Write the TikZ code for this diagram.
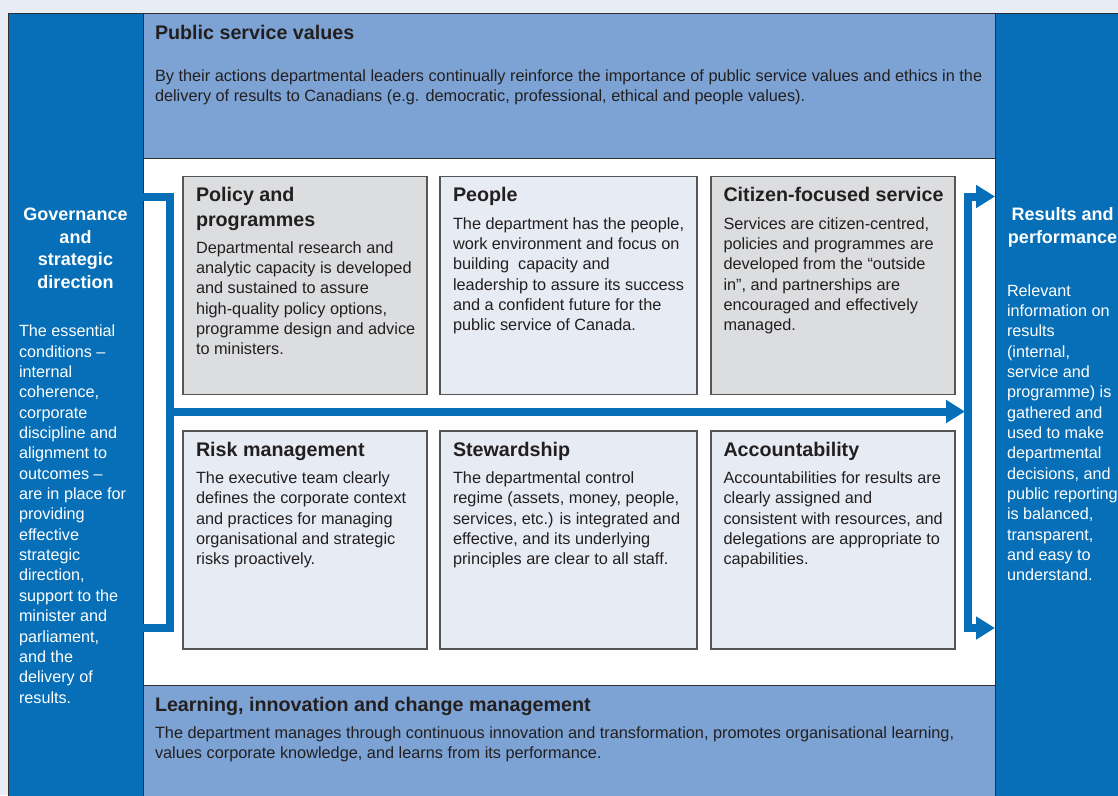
\documentclass[tikz,border=0pt]{standalone}
\usepackage{fontspec}
\setmainfont{Liberation Sans}
\usetikzlibrary{arrows.meta,calc}
\definecolor{colblue}{RGB}{6,111,183}
\definecolor{bandc}{RGB}{125,163,212}
\definecolor{bgc}{RGB}{232,236,244}
\definecolor{greyc}{RGB}{220,221,223}
\definecolor{lightc}{RGB}{231,235,244}
\definecolor{framec}{RGB}{45,45,50}
\definecolor{boxline}{RGB}{85,85,88}
\definecolor{txtc}{RGB}{35,31,32}
\begin{document}
\begin{tikzpicture}[x=1pt,y=-1pt,
  region/.style={draw=framec, line width=0.9pt, inner sep=0pt, outer sep=0pt, anchor=north west},
  cellbox/.style={draw=boxline, line width=1.3pt, inner sep=0pt, outer sep=0pt, anchor=north west, minimum height=218pt},
  bodytxt/.style={font=\fontsize{16.3}{20.35}\selectfont, text=txtc, align=left, inner sep=0pt, outer sep=0pt, anchor=north west},
  titletxt/.style={font=\bfseries\fontsize{19.7}{24.5}\selectfont, text=txtc, align=left, inner sep=0pt, outer sep=0pt, anchor=north west},
  sidehd/.style={font=\bfseries\fontsize{18}{22.5}\selectfont, text=white, align=center, inner sep=0pt, outer sep=0pt, anchor=north},
  sidebody/.style={font=\fontsize{16.2}{20.35}\selectfont, text=white, align=left, inner sep=0pt, outer sep=0pt, anchor=north west},
  flow/.style={draw=colblue, line width=8pt, line join=miter},
  tipx/.tip={Triangle[length=19pt,width=22pt]}
]
\useasboundingbox[fill=bgc] (0,0) rectangle (1118,795);

% regions
\node[region, fill=colblue, minimum width=135pt, minimum height=800pt] (gov) at (8,13) {};
\node[region, fill=colblue, minimum width=140pt, minimum height=800pt] (res) at (995,13) {};
\node[region, fill=bandc, minimum width=852pt, minimum height=145pt] (psv) at (143,13) {};
\node[region, fill=white, minimum width=852pt, minimum height=527pt] (mid) at (143,158) {};
\node[region, fill=bandc, minimum width=852pt, minimum height=115pt] (lic) at (143,685) {};

% boxes
\node[cellbox, fill=greyc, minimum width=244pt] (pol) at (183,176.5) {};
\node[cellbox, fill=lightc, minimum width=257pt] (ppl) at (440,176.5) {};
\node[cellbox, fill=greyc, minimum width=244pt] (cit) at (711,176.5) {};
\node[cellbox, fill=lightc, minimum width=244pt] (risk) at (183,431) {};
\node[cellbox, fill=lightc, minimum width=257pt] (stew) at (440,431) {};
\node[cellbox, fill=lightc, minimum width=244pt] (acc) at (711,431) {};

% top band
\node[titletxt, anchor=base west] (psvt) at (155,39) {Public service values};
\node[bodytxt] (psvb) at (155,66.8) {\strut By their actions departmental leaders continually reinforce the importance of public service values and ethics in the\\delivery of results to Canadians (e.g. democratic, professional, ethical and people values).};

% bottom band
\node[titletxt, anchor=base west] (lict) at (155,711.5) {Learning, innovation and change management};
\node[bodytxt] (licb) at (155,724) {\strut The department manages through continuous innovation and transformation, promotes organisational learning,\\values corporate knowledge, and learns from its performance.};

% left column
\node[sidehd] (govt) at (75.5,204.8) {\strut Governance\\and\\strategic\\direction};
\node[sidebody] (govb) at (19,322.5) {\strut The essential\\conditions –\\internal\\coherence,\\corporate\\discipline and\\alignment to\\outcomes –\\are in place for\\providing\\effective\\strategic\\direction,\\support to the\\minister and\\parliament,\\and the\\delivery of\\results.};

% right column
\node[sidehd] (rest) at (1062.5,204.8) {\strut Results and\\performance};
\node[sidebody] (resb) at (1007,281.8) {\strut Relevant\\information on\\results\\(internal,\\service and\\programme) is\\gathered and\\used to make\\departmental\\decisions, and\\public reporting\\is balanced,\\transparent,\\and easy to\\understand.};

% box texts
\node[titletxt] (polt) at ([shift={(13,8)}]pol.north west) {\strut Policy and\\programmes};
\node[bodytxt] (polb) at ([shift={(13,62.3)}]pol.north west) {\strut Departmental research and\\analytic capacity is developed\\and sustained to assure\\high-quality policy options,\\programme design and advice\\to ministers.};

\node[titletxt] (pplt) at ([shift={(13,8)}]ppl.north west) {\strut People};
\node[bodytxt] (pplb) at ([shift={(13,38.3)}]ppl.north west) {\strut The department has the people,\\work environment and focus on\\building\ \ capacity and\\leadership to assure its success\\and a confident future for the\\public service of Canada.};

\node[titletxt] (citt) at ([shift={(12.5,8)}]cit.north west) {\strut Citizen-focused service};
\node[bodytxt] (citb) at ([shift={(12.5,38.3)}]cit.north west) {\strut Services are citizen-centred,\\policies and programmes are\\developed from the “outside\\in”, and partnerships are\\encouraged and effectively\\managed.};

\node[titletxt] (riskt) at ([shift={(13,8)}]risk.north west) {\strut Risk management};
\node[bodytxt] (riskb) at ([shift={(13,38.3)}]risk.north west) {\strut The executive team clearly\\defines the corporate context\\and practices for managing\\organisational and strategic\\risks proactively.};

\node[titletxt] (stewt) at ([shift={(13,8)}]stew.north west) {\strut Stewardship};
\node[bodytxt] (stewb) at ([shift={(13,38.3)}]stew.north west) {\strut The departmental control\\regime (assets, money, people,\\services, etc.) is integrated and\\effective, and its underlying\\principles are clear to all staff.};

\node[titletxt] (acct) at ([shift={(12.5,8)}]acc.north west) {\strut Accountability};
\node[bodytxt] (accb) at ([shift={(12.5,38.3)}]acc.north west) {\strut Accountabilities for results are\\clearly assigned and\\consistent with resources, and\\delegations are appropriate to\\capabilities.};

% connectors
\coordinate (lt) at (169.5,196.5);
\coordinate (lb) at (169.5,628);
\coordinate (lm) at (169.5,411.5);
\coordinate (rt) at (967.5,196.5);
\coordinate (rb) at (967.5,628);
\coordinate (rm) at (965,411.5);

\draw[flow] (gov.east |- lt) -- (lt) -- (lb) -- (gov.east |- lb);
\draw[flow, -tipx] (lm) -- (rm);
\draw[flow, tipx-tipx] (res.west |- rt) -- (rt) -- (rb) -- (res.west |- rb);
\end{tikzpicture}
\end{document}
